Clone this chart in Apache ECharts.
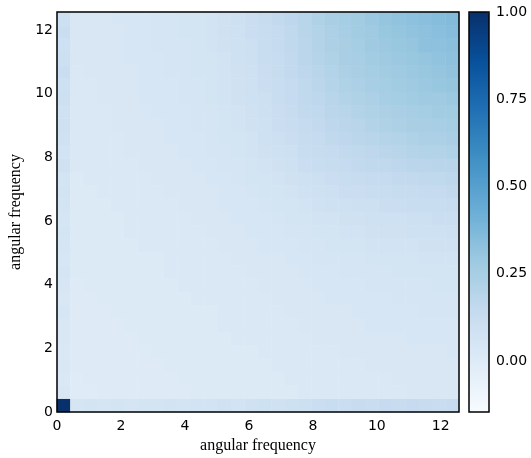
<!DOCTYPE html>
<html>
<head>
<meta charset="utf-8">
<script src="https://cdn.jsdelivr.net/npm/echarts@6/dist/echarts.min.js"></script>
<style>html,body{margin:0;padding:0;background:#fff;}#c{width:531px;height:458px;}</style>
</head>
<body>
<div id="c"></div>
<script>
// Frequency bin centers (angular frequency), shared by both axes
const freqBins = [0.21,0.63,1.05,1.47,1.88,2.30,2.72,3.14,3.56,3.98,4.40,4.82,5.24,5.65,6.07,6.49,6.91,7.33,7.75,8.17,8.59,9.01,9.42,9.84,10.26,10.68,11.10,11.52,11.94,12.36];
const axisTicks = [0,2,4,6,8,10,12];
const colorbarTicks = [0,0.25,0.5,0.75,1.0];
const colorMin = -0.146, colorMax = 1.0;

// Rows of the map, bottom (row 0) to top; each row = values for the 30 x bins
const intensityRows = [
[1.00,0.05,0.06,0.05,0.06,0.05,0.06,0.06,0.07,0.06,0.07,0.07,0.08,0.07,0.08,0.09,0.08,0.09,0.10,0.11,0.12,0.11,0.13,0.12,0.14,0.13,0.14,0.13,0.12,0.13],
[0.03,-0.01,-0.01,0,0,0,0,0,0,0,0.01,0.01,0.01,0.01,0.01,0.01,0.01,0.01,0.02,0.02,0.02,0.02,0.02,0.02,0.02,0.02,0.03,0.03,0.03,0.03],
[0.02,-0.01,0,0,0,0,0,0,0,0.01,0.01,0.01,0.01,0.01,0.01,0.01,0.01,0.02,0.02,0.02,0.02,0.02,0.02,0.02,0.02,0.03,0.03,0.03,0.03,0.03],
[0.03,0,0,0,0,0,0,0,0.01,0.01,0.01,0.01,0.01,0.01,0.01,0.01,0.02,0.02,0.02,0.02,0.02,0.02,0.02,0.03,0.03,0.03,0.03,0.03,0.03,0.03],
[0.02,0,0,0,0,0,0,0.01,0.01,0.01,0.01,0.01,0.01,0.01,0.01,0.02,0.02,0.02,0.02,0.02,0.02,0.03,0.03,0.03,0.03,0.03,0.03,0.03,0.03,0.04],
[0.03,0,0,0,0,0,0.01,0.01,0.01,0.01,0.01,0.01,0.01,0.02,0.02,0.02,0.02,0.02,0.02,0.03,0.03,0.03,0.03,0.03,0.03,0.03,0.04,0.04,0.04,0.04],
[0.03,0,0,0,0,0.01,0.01,0.01,0.01,0.01,0.01,0.01,0.02,0.02,0.02,0.02,0.02,0.02,0.03,0.03,0.03,0.03,0.03,0.04,0.04,0.04,0.04,0.04,0.04,0.04],
[0.04,0,0,0,0.01,0.01,0.01,0.01,0.01,0.01,0.01,0.01,0.02,0.02,0.02,0.02,0.02,0.03,0.03,0.03,0.03,0.03,0.04,0.04,0.04,0.04,0.04,0.05,0.05,0.05],
[0.03,0,0,0.01,0.01,0.01,0.01,0.01,0.01,0.01,0.02,0.02,0.02,0.02,0.02,0.02,0.03,0.03,0.03,0.03,0.04,0.04,0.04,0.04,0.04,0.05,0.05,0.05,0.05,0.05],
[0.04,0,0.01,0.01,0.01,0.01,0.01,0.01,0.01,0.02,0.02,0.02,0.02,0.02,0.02,0.03,0.03,0.03,0.03,0.04,0.04,0.04,0.04,0.05,0.05,0.05,0.05,0.05,0.06,0.06],
[0.05,0.01,0.01,0.01,0.01,0.01,0.01,0.01,0.02,0.02,0.02,0.02,0.02,0.02,0.03,0.03,0.03,0.03,0.04,0.04,0.04,0.05,0.05,0.05,0.05,0.06,0.06,0.06,0.06,0.06],
[0.04,0.01,0.01,0.01,0.01,0.01,0.01,0.01,0.02,0.02,0.02,0.02,0.02,0.03,0.03,0.03,0.03,0.04,0.04,0.05,0.05,0.05,0.05,0.06,0.06,0.06,0.06,0.07,0.07,0.07],
[0.05,0.01,0.01,0.01,0.01,0.01,0.02,0.02,0.02,0.02,0.02,0.02,0.03,0.03,0.03,0.04,0.04,0.04,0.05,0.05,0.06,0.06,0.06,0.07,0.07,0.07,0.07,0.08,0.08,0.08],
[0.06,0.01,0.01,0.01,0.01,0.02,0.02,0.02,0.02,0.02,0.02,0.03,0.03,0.03,0.04,0.04,0.04,0.05,0.05,0.06,0.06,0.07,0.07,0.08,0.08,0.08,0.09,0.09,0.09,0.10],
[0.05,0.01,0.01,0.01,0.01,0.02,0.02,0.02,0.02,0.02,0.03,0.03,0.03,0.04,0.04,0.04,0.05,0.06,0.06,0.07,0.07,0.08,0.08,0.09,0.09,0.09,0.10,0.10,0.11,0.11],
[0.06,0.01,0.01,0.01,0.02,0.02,0.02,0.02,0.02,0.03,0.03,0.03,0.04,0.04,0.04,0.05,0.06,0.06,0.07,0.08,0.09,0.09,0.10,0.10,0.11,0.11,0.12,0.12,0.12,0.13],
[0.07,0.01,0.01,0.02,0.02,0.02,0.02,0.02,0.03,0.03,0.03,0.03,0.04,0.04,0.05,0.06,0.06,0.07,0.08,0.09,0.10,0.11,0.11,0.12,0.12,0.13,0.13,0.14,0.14,0.15],
[0.06,0.01,0.02,0.02,0.02,0.02,0.02,0.03,0.03,0.03,0.03,0.04,0.04,0.05,0.06,0.06,0.07,0.08,0.09,0.10,0.11,0.12,0.13,0.14,0.14,0.15,0.15,0.16,0.16,0.17],
[0.08,0.02,0.02,0.02,0.02,0.02,0.03,0.03,0.03,0.03,0.04,0.04,0.05,0.05,0.06,0.07,0.08,0.09,0.11,0.12,0.13,0.14,0.15,0.16,0.16,0.17,0.18,0.18,0.19,0.19],
[0.07,0.02,0.02,0.02,0.02,0.03,0.03,0.03,0.03,0.04,0.04,0.05,0.05,0.06,0.07,0.08,0.09,0.10,0.12,0.13,0.14,0.15,0.16,0.17,0.18,0.19,0.20,0.21,0.21,0.22],
[0.08,0.02,0.02,0.02,0.02,0.03,0.03,0.03,0.04,0.04,0.04,0.05,0.06,0.06,0.07,0.09,0.10,0.11,0.13,0.14,0.16,0.17,0.18,0.19,0.20,0.21,0.22,0.23,0.23,0.24],
[0.09,0.02,0.02,0.02,0.03,0.03,0.03,0.03,0.04,0.04,0.05,0.05,0.06,0.07,0.08,0.09,0.11,0.12,0.14,0.15,0.17,0.18,0.19,0.21,0.22,0.23,0.24,0.24,0.25,0.26],
[0.08,0.02,0.02,0.02,0.03,0.03,0.03,0.04,0.04,0.04,0.05,0.05,0.06,0.07,0.08,0.10,0.11,0.13,0.15,0.16,0.18,0.19,0.21,0.22,0.23,0.24,0.25,0.26,0.27,0.27],
[0.10,0.02,0.02,0.03,0.03,0.03,0.04,0.04,0.04,0.05,0.05,0.06,0.07,0.08,0.09,0.10,0.12,0.14,0.16,0.17,0.19,0.21,0.22,0.23,0.25,0.26,0.27,0.28,0.28,0.29],
[0.09,0.02,0.02,0.03,0.03,0.03,0.04,0.04,0.04,0.05,0.05,0.06,0.07,0.08,0.09,0.11,0.12,0.14,0.16,0.18,0.20,0.22,0.23,0.25,0.26,0.27,0.28,0.29,0.30,0.31],
[0.11,0.02,0.03,0.03,0.03,0.03,0.04,0.04,0.05,0.05,0.06,0.06,0.07,0.08,0.09,0.11,0.13,0.15,0.17,0.19,0.21,0.23,0.24,0.26,0.27,0.28,0.29,0.30,0.31,0.32],
[0.10,0.03,0.03,0.03,0.03,0.04,0.04,0.04,0.05,0.05,0.06,0.06,0.07,0.09,0.10,0.12,0.13,0.15,0.18,0.20,0.22,0.24,0.25,0.27,0.28,0.29,0.30,0.31,0.32,0.33],
[0.09,0.03,0.03,0.03,0.03,0.04,0.04,0.05,0.05,0.05,0.06,0.07,0.08,0.09,0.10,0.12,0.14,0.16,0.18,0.21,0.23,0.24,0.26,0.28,0.29,0.30,0.31,0.33,0.33,0.34],
[0.11,0.03,0.03,0.03,0.03,0.04,0.04,0.05,0.05,0.06,0.06,0.07,0.08,0.09,0.11,0.12,0.14,0.16,0.19,0.21,0.23,0.25,0.27,0.28,0.30,0.31,0.32,0.33,0.34,0.35],
[0.10,0.03,0.03,0.03,0.04,0.04,0.04,0.05,0.05,0.06,0.06,0.07,0.08,0.10,0.11,0.13,0.15,0.17,0.19,0.22,0.24,0.26,0.27,0.29,0.31,0.32,0.33,0.34,0.35,0.36]
];

const blues = ['#f7fbff','#deebf7','#c6dbef','#9ecae1','#6baed6','#4292c6','#2171b5','#08519c','#08306b'];

const cells = [];
intensityRows.forEach((row, j) => row.forEach((v, i) => cells.push([i, j, v])));

const PLOT = {left: 57, top: 12, width: 402, height: 400};
const CBAR = {left: 469, top: 12, width: 20, height: 400};
const tickFont = {fontFamily: 'DejaVu Sans', fontSize: 14, color: '#000'};
const nameFont = {fontFamily: 'Liberation Serif', fontSize: 16, color: '#000'};
const fMax = freqBins[freqBins.length - 1] + (freqBins[1] - freqBins[0]) / 2;
const gridBase = {containLabel: false, outerBoundsMode: 'none'};

const chart = echarts.init(document.getElementById('c'), null, {renderer: 'canvas'});
chart.setOption({
  animation: false,
  backgroundColor: '#fff',
  grid: [
    Object.assign({}, gridBase, PLOT),
    Object.assign({show: true, z: 10, borderColor: '#000', borderWidth: 1.5, backgroundColor: 'transparent'}, gridBase, PLOT),
    Object.assign({show: true, z: 10, borderColor: '#000', borderWidth: 1.5, backgroundColor: 'transparent'}, gridBase, CBAR)
  ],
  xAxis: [
    {type: 'category', gridIndex: 0, data: freqBins, show: false},
    {type: 'value', gridIndex: 1, min: 0, max: fMax, interval: 2,
     axisLine: {show: false}, axisTick: {show: false}, splitLine: {show: false},
     axisLabel: Object.assign({margin: 7, showMaxLabel: false}, tickFont),
     name: 'angular frequency', nameLocation: 'middle', nameGap: 26, nameTextStyle: nameFont},
    {type: 'value', gridIndex: 2, show: false, min: 0, max: 1}
  ],
  yAxis: [
    {type: 'category', gridIndex: 0, data: freqBins, show: false},
    {type: 'value', gridIndex: 1, min: 0, max: fMax, interval: 2,
     axisLine: {show: false}, axisTick: {show: false}, splitLine: {show: false},
     axisLabel: Object.assign({margin: 4, showMaxLabel: false}, tickFont),
     name: 'angular frequency', nameLocation: 'middle', nameGap: 23, nameRotate: 90, nameTextStyle: nameFont},
    {type: 'value', gridIndex: 2, position: 'right', min: colorMin, max: colorMax,
     axisLine: {show: false}, splitLine: {show: false},
     axisTick: {show: true, length: 4, customValues: colorbarTicks, lineStyle: {color: '#000'}},
     axisLabel: Object.assign({margin: 7, customValues: colorbarTicks, formatter: v => v.toFixed(2)}, tickFont)}
  ],
  visualMap: {
    type: 'continuous', min: colorMin, max: colorMax, dimension: 2, seriesIndex: 0,
    calculable: false, realtime: false, hoverLink: false,
    orient: 'vertical', left: CBAR.left, top: CBAR.top, itemWidth: CBAR.width, itemHeight: CBAR.height,
    padding: 0, text: null, showLabel: false,
    inRange: {color: blues}
  },
  series: [{
    type: 'heatmap', xAxisIndex: 0, yAxisIndex: 0, data: cells,
    progressive: 0, emphasis: {disabled: true}, itemStyle: {borderWidth: 0}
  }]
});
</script>
</body>
</html>
